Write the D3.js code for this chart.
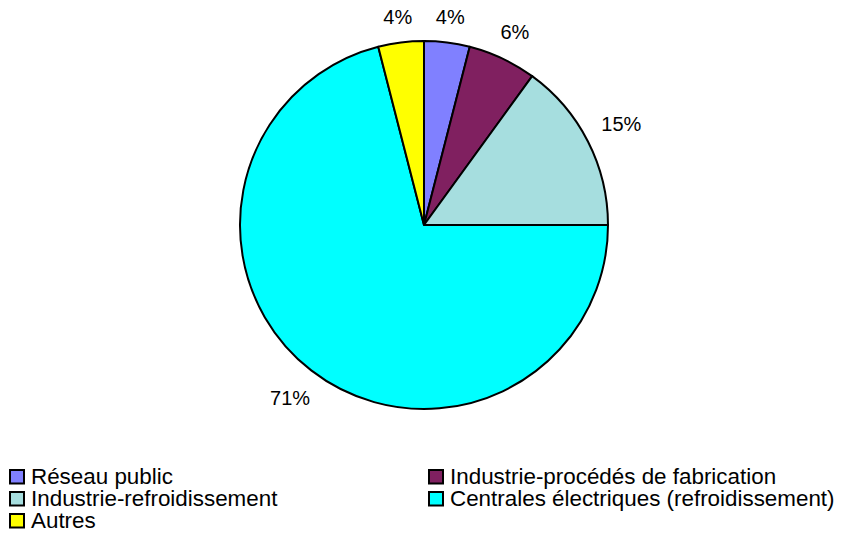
<!DOCTYPE html>
<html>
<head>
<meta charset="utf-8">
<script src="https://cdn.jsdelivr.net/npm/d3@7"></script>
<style>
  body { margin: 0; background: #fff; }
  svg { display: block; font-family: Arial, "Liberation Sans", sans-serif; }
</style>
</head>
<body>
<div id="rootDiv"></div>
<script>
const width = 842
const height = 536
const radius = 184

const categories = [
    "Réseau public",
    "Industrie-procédés de fabrication",
    "Industrie-refroidissement",
    "Centrales électriques (refroidissement)",
    "Autres",
]
const values = [4, 6, 15, 71, 4]
const colors = ["#8080ff", "#802060", "#a6dedf", "#00ffff", "#ffff00"]

// legend: two columns, filled row by row
const legendCols = [9, 428]

const svg = d3.select("#rootDiv")
    .append("svg")
    .attr("width", width)
    .attr("height", height)

const g = svg.append("g")
    .attr("transform", `translate(424, 225)`)

const pie = d3.pie().sort(null).value(d => d)
const arcs = pie(values)
const arc = d3.arc().innerRadius(0).outerRadius(radius)

g.selectAll("path.slice")
    .data(arcs)
    .enter()
    .append("path")
    .attr("class", "slice")
    .attr("d", arc)
    .attr("fill", (d, i) => colors[i])
    .attr("stroke", "#000")
    .attr("stroke-width", 2)
    .attr("stroke-linejoin", "round")

const total = d3.sum(values)

// labels: box edge sits a little outside the rim
const labels = g.selectAll("text.lbl")
    .data(arcs)
    .enter()
    .append("text")
    .attr("class", "lbl")
    .attr("font-size", 20)
    .attr("fill", "#000")
    .attr("text-anchor", "middle")
    .attr("dy", "0.35em")
    .text(d => Math.round(d.data / total * 100) + "%")

labels.each(function (d) {
    const a = (d.startAngle + d.endAngle) / 2
    const hw = this.getComputedTextLength() / 2
    const hh = 8
    const dist = radius + 16 + hw * Math.abs(Math.sin(a)) + hh * Math.abs(Math.cos(a))
    d3.select(this)
        .attr("x", Math.sin(a) * dist)
        .attr("y", -Math.cos(a) * dist)
})

// legend
const legend = svg.append("g")
    .attr("font-size", 22.4)

categories.forEach((name, i) => {
    const col = i % 2
    const row = Math.floor(i / 2)
    const x = legendCols[col]
    const y = 470 + row * 22
    legend.append("rect")
        .attr("x", x + 1)
        .attr("y", y)
        .attr("width", 14)
        .attr("height", 13.5)
        .attr("fill", colors[i])
        .attr("stroke", "#000")
        .attr("stroke-width", 2)
    legend.append("text")
        .attr("x", x + 22)
        .attr("y", y + 13.5)
        .attr("fill", "#000")
        .text(name)
})
</script>
</body>
</html>
